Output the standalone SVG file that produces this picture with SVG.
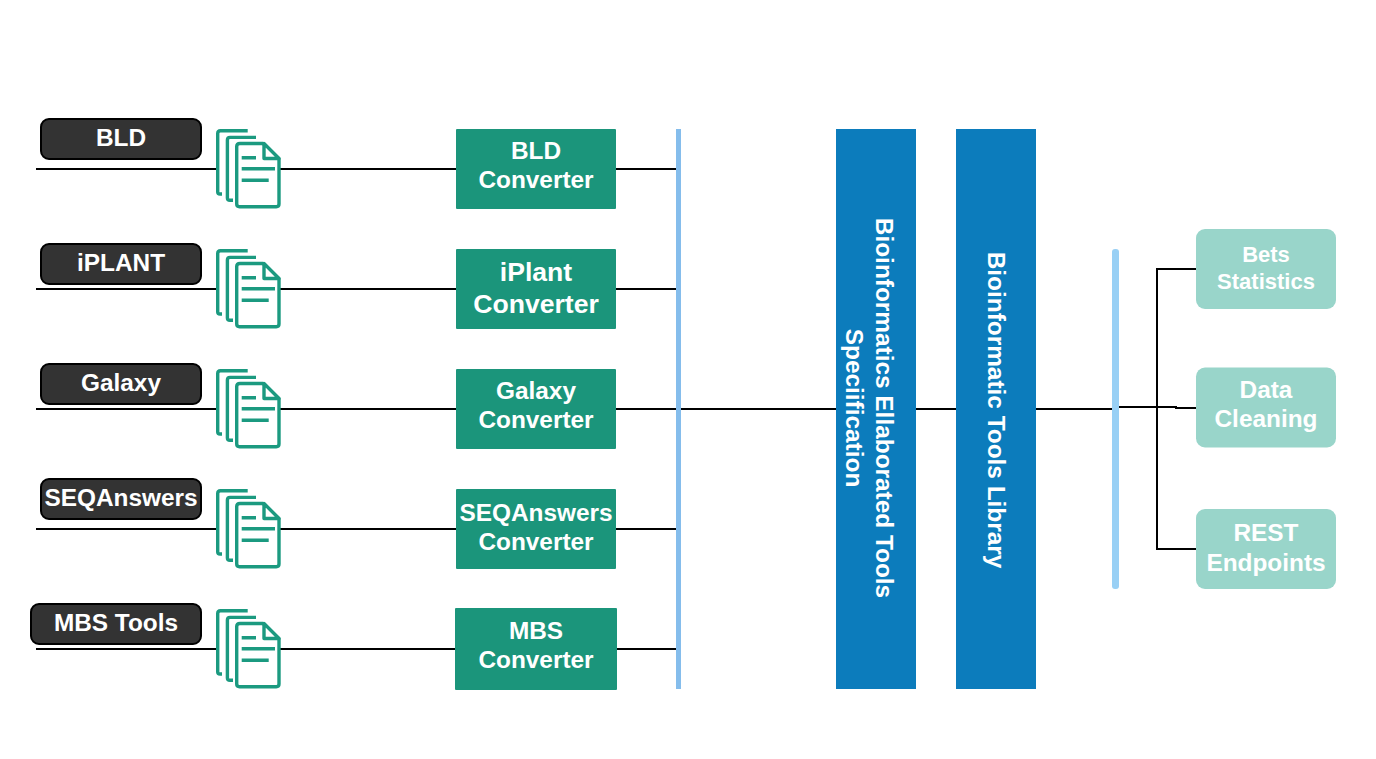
<svg xmlns="http://www.w3.org/2000/svg" xmlns:xlink="http://www.w3.org/1999/xlink" width="1376" height="759" viewBox="0 0 1376 759">
<style>
text{font-family:"Liberation Sans",Arial,sans-serif;font-weight:700;fill:#fff;text-anchor:middle;font-variant-ligatures:none}
.src{fill:#333;stroke:#000;stroke-width:2}
.conv{fill:#1b957b}
.out{fill:#99d5ca}
.lib{fill:#0c7cbc}
.c{fill:none;stroke:#000;stroke-width:2}
.d{fill:#fff;stroke:#1b9a80;stroke-width:3.400;stroke-linejoin:round}
.dl{fill:none;stroke:#1b9a80;stroke-width:3.400}
.t24{font-size:24.400px}.t22{font-size:22px}.t26{font-size:26.600px}
</style>
<defs>
<g id="doc">
<rect x="18.700" y="1.700" width="60" height="74" fill="#fff"/>
<path class="dl" d="M48.700 1.700H21.500Q18.700 1.700 18.700 4.500V63Q18.700 65 21 65H23"/>
<path class="dl" d="M57 8.400H31Q28.400 8.400 28.400 11V69Q28.400 71.300 31 71.300H34"/>
<path class="d" d="M41 14.500H64L80 30V75Q80 77.700 77.300 77.700H40.500Q37.700 77.700 37.700 75V17.500Q37.700 14.500 41 14.500Z"/>
<path class="d" d="M65 14.500V29.500H80Z" stroke-width="3"/>
<path class="dl" d="M42.700 28.700H57M42.700 39.700H76M42.700 51.300H69.700"/>
</g>
</defs>
<rect width="1376" height="759" fill="#fff"/>
<g id="connectors">
<path class="c" d="M36 169H456M616 169H676M36 289H456M616 289H676M36 409H456M616 409H836M916 409H956M1036 409H1113M36 529H456M616 529H676M36 649H456M617 649H676"/>
<path class="c" d="M1119 407H1176V408H1196M1196 269H1157V549H1196"/>
</g>
<g id="bar-left"><rect x="676" y="129" width="5" height="560" fill="#85bdec"/></g>
<g id="bar-right"><rect x="1112" y="249" width="7" height="340" rx="3" fill="#99d0f5"/></g>
<g id="src-bld"><rect class="src" x="41" y="119" width="160" height="40" rx="8"/><text class="t24" x="121" y="146">BLD</text></g>
<g id="src-iplant"><rect class="src" x="41" y="244" width="160" height="40" rx="8"/><text class="t24" x="121" y="271">iPLANT</text></g>
<g id="src-galaxy"><rect class="src" x="41" y="364" width="160" height="40" rx="8"/><text class="t24" x="121" y="391">Galaxy</text></g>
<g id="src-seq"><rect class="src" x="41" y="479" width="160" height="40" rx="8"/><text class="t24" x="121" y="506">SEQAnswers</text></g>
<g id="src-mbs"><rect class="src" x="31" y="604" width="170" height="40" rx="8"/><text class="t24" x="116" y="631">MBS Tools</text></g>
<g id="doc1"><use xlink:href="#doc" href="#doc" x="199" y="129"/></g>
<g id="doc2"><use xlink:href="#doc" href="#doc" x="199" y="249"/></g>
<g id="doc3"><use xlink:href="#doc" href="#doc" x="199" y="369"/></g>
<g id="doc4"><use xlink:href="#doc" href="#doc" x="199" y="489"/></g>
<g id="doc5"><use xlink:href="#doc" href="#doc" x="199" y="609"/></g>
<g id="conv-bld"><rect class="conv" x="456" y="129" width="160" height="80" rx="1"/><text class="t24" x="536" y="159">BLD</text><text class="t24" x="536" y="188">Converter</text></g>
<g id="conv-iplant"><rect class="conv" x="456" y="249" width="160" height="80" rx="1"/><text class="t26" x="536" y="281">iPlant</text><text class="t26" x="536" y="313">Converter</text></g>
<g id="conv-galaxy"><rect class="conv" x="456" y="369" width="160" height="80" rx="1"/><text class="t24" x="536" y="399">Galaxy</text><text class="t24" x="536" y="428">Converter</text></g>
<g id="conv-seq"><rect class="conv" x="456" y="489" width="160" height="80" rx="1"/><text class="t24" x="536" y="521">SEQAnswers</text><text class="t24" x="536" y="550">Converter</text></g>
<g id="conv-mbs"><rect class="conv" x="455" y="608" width="162" height="82" rx="1"/><text class="t24" x="536" y="639">MBS</text><text class="t24" x="536" y="668">Converter</text></g>
<g id="spec"><rect class="lib" x="836" y="129" width="80" height="560"/>
<text class="t24" transform="translate(876 408) rotate(90)">Bioinformatics Ellaborated Tools</text>
<text class="t24" transform="translate(846 408) rotate(90)">Speciification</text></g>
<g id="library"><rect class="lib" x="956" y="129" width="80" height="560"/>
<text class="t24" transform="translate(988 410) rotate(90)">Bioinformatic Tools Library</text></g>
<g id="out-bets"><rect class="out" x="1196" y="229" width="140" height="80" rx="9"/><text class="t22" x="1266" y="262">Bets</text><text class="t22" x="1266" y="289">Statistics</text></g>
<g id="out-data"><rect class="out" x="1196" y="367.500" width="140" height="80" rx="9"/><text class="t24" x="1266" y="398">Data</text><text class="t24" x="1266" y="427">Cleaning</text></g>
<g id="out-rest"><rect class="out" x="1196" y="509" width="140" height="80" rx="9"/><text class="t24" x="1266" y="541">REST</text><text class="t24" x="1266" y="571">Endpoints</text></g>
</svg>
